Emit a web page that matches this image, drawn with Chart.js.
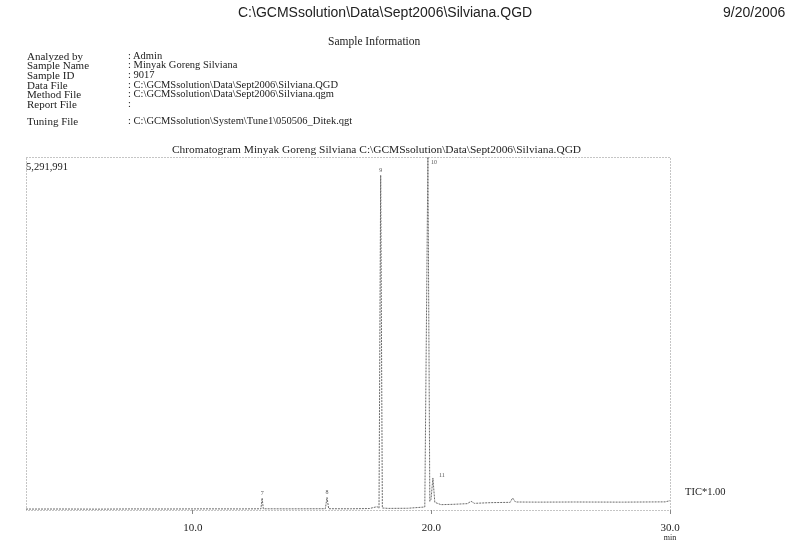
<!DOCTYPE html>
<html>
<head>
<meta charset="utf-8">
<title>Chromatogram Minyak Goreng Silviana</title>
<script src="https://cdn.jsdelivr.net/npm/chart.js@4.4.1/dist/chart.umd.min.js"></script>
<style>
  body { margin: 0; background: #fff; }
  #page { position: relative; width: 788px; height: 542px; overflow: hidden; background: #fff; }
  #page canvas { position: absolute; left: 0; top: 0; }
  .t { position: absolute; white-space: nowrap; color: #222; line-height: 1; }
  .serif { font-family: "Liberation Serif", "Times New Roman", serif; }
  .sans { font-family: "Liberation Sans", Arial, sans-serif; }
</style>
</head>
<body>
<div id="page">
  <canvas id="chart" width="788" height="542"></canvas>
  <div class="t sans" style="left:238px; top:5px; font-size:14px;">C:\GCMSsolution\Data\Sept2006\Silviana.QGD</div>
  <div class="t sans" style="left:723px; top:5px; font-size:14px;">9/20/2006</div>
  <div class="t serif" style="left:328px; top:36px; font-size:11.5px;">Sample Information</div>
  <div id="info"></div>
  <div class="t serif" style="left:172px; top:144px; font-size:11.4px;">Chromatogram Minyak Goreng Silviana C:\GCMSsolution\Data\Sept2006\Silviana.QGD</div>
</div>

<script>
// Sample information block
const infoLabels = ["Analyzed by", "Sample Name", "Sample ID", "Data File", "Method File", "Report File", "Tuning File"];
const infoValues = [": Admin", ": Minyak Goreng Silviana", ": 9017",
  ": C:\\GCMSsolution\\Data\\Sept2006\\Silviana.QGD",
  ": C:\\GCMSsolution\\Data\\Sept2006\\Silviana.qgm",
  ":",
  ": C:\\GCMSsolution\\System\\Tune1\\050506_Ditek.qgt"];
const infoRowTop = [51, 60, 70, 80, 89, 99, 116];

// Total ion chromatogram: retention time (min) and intensity (counts)
const retentionTime = [
  3.0, 4.5, 6.0, 7.5, 9.0, 10.5, 12.0, 12.85, 12.9, 12.95,
  14.0, 15.55, 15.62, 15.69, 16.6, 17.4, 17.72, 17.8, 17.87, 17.94,
  18.2, 19.0, 19.72, 19.85, 19.93, 19.98, 20.06, 20.14, 20.4, 20.9,
  21.5, 21.66, 21.8, 22.5, 23.3, 23.4, 23.52, 24.5, 26.0, 28.0,
  29.8, 30.0
];
const intensity = [
  14000, 15000, 13000, 16000, 15000, 17000, 16000, 18000, 180000, 18000,
  17000, 19000, 190000, 19000, 18000, 22000, 50000, 26000, 5020000, 30000,
  24000, 26000, 45000, 5291991, 130000, 160000, 480000, 115000, 80000, 85000,
  95000, 130000, 100000, 110000, 115000, 180000, 120000, 118000, 120000, 118000,
  122000, 140000
];
const yMax = 5291991;
const tickMinutes = [10, 20, 30];
const peakTimes = [12.9, 15.62, 17.87, 19.85, 20.06];
const peakNumbers = ["7", "8", "9", "10", "11"];

// build the information rows
const infoBox = document.getElementById("info");
infoLabels.forEach((lab, i) => {
  const a = document.createElement("div");
  a.className = "t serif";
  a.style.cssText = `left:27px; top:${infoRowTop[i]}px; font-size:11px;`;
  a.textContent = lab;
  infoBox.appendChild(a);
  const b = document.createElement("div");
  b.className = "t serif";
  b.style.cssText = `left:128px; top:${infoRowTop[i]}px; font-size:10.5px;`;
  b.textContent = infoValues[i];
  infoBox.appendChild(b);
});

const SERIF = '"Liberation Serif", "Times New Roman", serif';

// dotted frame around the plot area
const framePlugin = {
  id: "frame",
  beforeDatasetsDraw(chart) {
    const { ctx, chartArea: a } = chart;
    ctx.save();
    ctx.strokeStyle = "#8a8a8a";
    ctx.lineWidth = 1;
    ctx.setLineDash([1, 2]);
    ctx.strokeRect(Math.round(a.left) + 0.5, Math.round(a.top) + 0.5,
                   Math.round(a.right - a.left), Math.round(a.bottom - a.top));
    ctx.restore();
  }
};

// full-scale value, trace name, unit and peak numbers
const notesPlugin = {
  id: "notes",
  afterDraw(chart) {
    const { ctx, chartArea: a, scales } = chart;
    ctx.save();
    ctx.fillStyle = "#222";
    ctx.textBaseline = "middle";
    ctx.font = `10.5px ${SERIF}`;
    ctx.textAlign = "left";
    ctx.fillText(yMax.toLocaleString("en-US"), a.left, a.top + 10);
    ctx.fillText("TIC*1.00", a.right + 15, a.bottom - 18);
    ctx.font = `8px ${SERIF}`;
    ctx.textAlign = "center";
    ctx.fillText("min", a.right, a.bottom + 28);

    ctx.font = `6px ${SERIF}`;
    ctx.fillStyle = "#555";
    peakTimes.forEach((t, i) => {
      const idx = retentionTime.indexOf(t);
      const px = scales.x.getPixelForValue(t);
      let py = scales.y.getPixelForValue(intensity[idx]) - 5;
      let dx = 0;
      if (py < a.top + 5) { py = a.top + 5; dx = 6; }
      if (i === peakNumbers.length - 1) { dx = 9; py += 2; }
      ctx.fillText(peakNumbers[i], px + dx, py);
    });
    ctx.restore();
  }
};

new Chart(document.getElementById("chart"), {
  type: "line",
  data: {
    datasets: [{
      label: "TIC",
      data: retentionTime.map((t, i) => ({ x: t, y: intensity[i] })),
      borderColor: "#6a6a6a",
      borderWidth: 1,
      borderDash: [2, 1],
      pointRadius: 0,
      tension: 0,
      fill: false
    }]
  },
  options: {
    responsive: false,
    animation: false,
    devicePixelRatio: 1,
    layout: { padding: { left: 26, right: 118, top: 157, bottom: 0 } },
    plugins: { legend: { display: false }, tooltip: { enabled: false }, title: { display: false } },
    scales: {
      x: {
        type: "linear",
        min: 3,
        max: 30,
        afterBuildTicks: s => { s.ticks = tickMinutes.map(v => ({ value: v })); },
        afterFit: s => { s.height = 32; },
        ticks: {
          callback: v => Number(v).toFixed(1),
          font: { family: SERIF, size: 11 },
          color: "#222",
          padding: 8,
          maxRotation: 0,
          autoSkip: false
        },
        grid: { display: true, drawOnChartArea: false, drawTicks: true, tickLength: 4, color: "#888" },
        border: { display: false }
      },
      y: { display: false, min: 0, max: yMax }
    }
  },
  plugins: [framePlugin, notesPlugin]
});
</script>
</body>
</html>
